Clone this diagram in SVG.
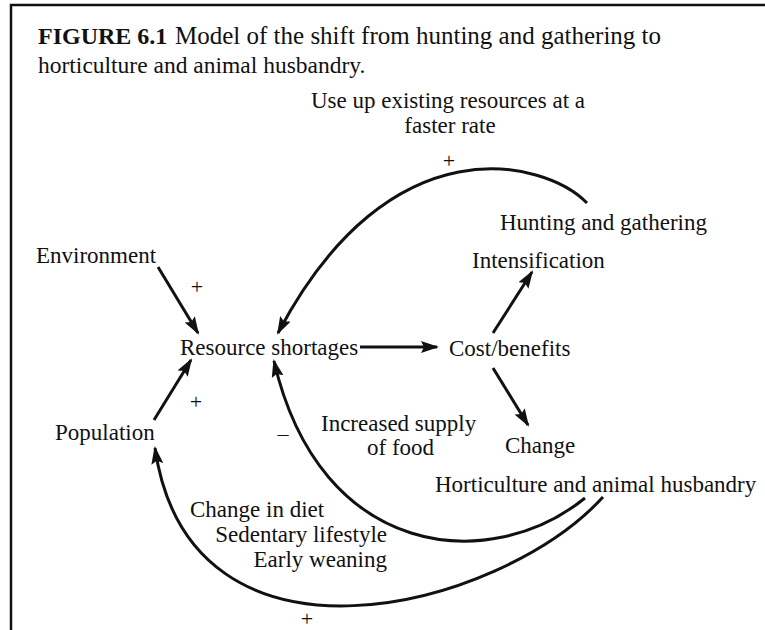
<svg xmlns="http://www.w3.org/2000/svg" width="765" height="630" viewBox="0 0 765 630">
<style>
  text { font-family: "Liberation Serif", "Times New Roman", serif; fill: #111; }
  .t { font-size: 24px; }
  .b { font-weight: bold; }
  .n { font-size: 23px; }
  .s { font-size: 22px; }
  .c { stroke: #111; stroke-width: 3; fill: none; }
  .frame { stroke: #111; stroke-width: 2.5; fill: none; }
</style>
<defs>
  <marker id="ah" viewBox="0 0 18 12" refX="16" refY="6" markerWidth="18" markerHeight="12" markerUnits="userSpaceOnUse" orient="auto">
    <path d="M0,0 L18,6 L0,12 L3,6 z" fill="#111"/>
  </marker>
</defs>
<rect width="765" height="630" fill="#fff"/>
<path class="frame" d="M11,630 L11,5 L765,5"/>
<g id="caption">
  <text class="t b" x="38" y="44">FIGURE 6.1</text>
  <text class="t" x="175" y="44" style="font-size:25px">Model of the shift from hunting and gathering to</text>
  <text class="t" x="38" y="73" style="font-size:23.5px">horticulture and animal husbandry.</text>
</g>
<g id="connectors">
  <path class="c" marker-end="url(#ah)" d="M158,267 L198,333"/>
  <path class="c" marker-end="url(#ah)" d="M154,420 L191,360"/>
  <path class="c" marker-end="url(#ah)" d="M360,347 L437,347"/>
  <path class="c" marker-end="url(#ah)" d="M493,333 L532,272"/>
  <path class="c" marker-end="url(#ah)" d="M493,368 L528,425"/>
  <path class="c" marker-end="url(#ah)" d="M587,203 C545,160 390,120 278,333"/>
  <path class="c" marker-end="url(#ah)" d="M585,498 C490,575 320,560 274,361"/>
  <path class="c" marker-end="url(#ah)" d="M603,497 C500,610 190,690 155,448"/>
</g>
<g id="use-up">
  <text class="n" x="448" y="108" text-anchor="middle">Use up existing resources at a</text>
  <text class="n" x="450" y="133" text-anchor="middle">faster rate</text>
</g>
<g id="hunting"><text class="n" x="500" y="230">Hunting and gathering</text></g>
<g id="intensification"><text class="n" x="472" y="268">Intensification</text></g>
<g id="environment"><text class="n" x="36" y="263">Environment</text></g>
<g id="resource"><text class="n" x="180" y="355">Resource shortages</text></g>
<g id="cost"><text class="n" x="449" y="356">Cost/benefits</text></g>
<g id="population"><text class="n" x="55" y="440">Population</text></g>
<g id="supply">
  <text class="n" x="321" y="431">Increased supply</text>
  <text class="n" x="367" y="455">of food</text>
</g>
<g id="change"><text class="n" x="505" y="453">Change</text></g>
<g id="horticulture"><text class="n" x="435" y="492">Horticulture and animal husbandry</text></g>
<g id="effects">
  <text class="n" x="190" y="517">Change in diet</text>
  <text class="n" x="387" y="542" text-anchor="end">Sedentary lifestyle</text>
  <text class="n" x="387" y="567" text-anchor="end">Early weaning</text>
</g>
<g id="signs">
  <text class="s" x="449" y="168" text-anchor="middle">+</text>
  <text class="s" x="197" y="294" text-anchor="middle">+</text>
  <text class="s" x="196" y="409" text-anchor="middle">+</text>
  <text class="s" x="283" y="441" text-anchor="middle">–</text>
  <text class="s" x="307" y="626" text-anchor="middle">+</text>
</g>
</svg>
